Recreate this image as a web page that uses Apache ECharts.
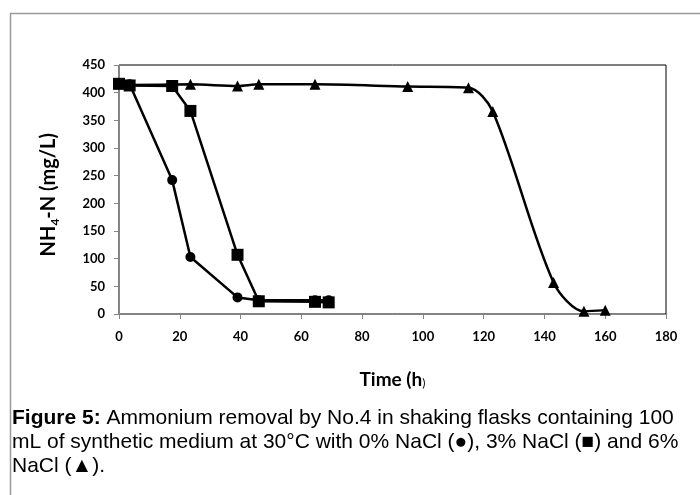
<!DOCTYPE html>
<html lang="en">
<head>
<meta charset="utf-8">
<script src="https://cdn.jsdelivr.net/npm/echarts@6/dist/echarts.min.js"></script>
</head>
<body style="margin:0; background:#fff">
<div id="main" style="width:700px; height:495px"></div>
<script>
// values (time in h, NH4-N in mg/L)
var circleTime = [0, 3.5, 17.5, 23.5, 39, 46, 64.5, 69];
var circleVal  = [416, 415, 242, 103, 30, 25, 25, 25];

var squareTime = [0, 3.5, 17.5, 23.5, 39, 46, 64.5, 69];
var squareVal  = [416, 413, 412, 367, 107, 23, 22, 21];

var triTime = [0, 3.5, 23.5, 39, 46, 64.5, 95, 115, 123, 143, 153, 160];
var triVal  = [416, 414, 415, 412, 415, 415, 411, 409, 366, 57, 5, 7];

function pairs(t, v) {
  var out = [];
  for (var i = 0; i < t.length; i++) out.push([t[i], v[i]]);
  return out;
}

var chart = echarts.init(document.getElementById('main'));
var axisFont = 'Lato, "Open Sans", sans-serif';
var capFont = '"Liberation Sans", Arial, sans-serif';

var option = {
  animation: false,
  backgroundColor: '#fff',
  grid: {
    left: 119, top: 65, right: 34, bottom: 181,
    show: true, borderColor: '#000', borderWidth: 1
  },
  xAxis: {
    type: 'value', min: 0, max: 180, interval: 20,
    splitLine: { show: false },
    axisLine: { lineStyle: { color: '#868686', width: 1 } },
    axisTick: { show: true, length: 5, lineStyle: { color: '#868686' } },
    axisLabel: { color: '#000', fontFamily: axisFont, fontWeight: 'bold', fontSize: 13, margin: 16 },
    name: '{b|Time (h}{s|)}',
    nameLocation: 'middle', nameGap: 56,
    nameTextStyle: {
      rich: {
        b: { fontFamily: axisFont, fontWeight: 'bold', fontSize: 19, color: '#000' },
        s: { fontFamily: axisFont, fontSize: 12, color: '#000', verticalAlign: 'bottom' }
      }
    }
  },
  yAxis: {
    type: 'value', min: 0, max: 450, interval: 50,
    splitLine: { show: false },
    axisLine: { show: true, lineStyle: { color: '#868686', width: 1 } },
    axisTick: { show: true, length: 5, lineStyle: { color: '#868686' } },
    axisLabel: { color: '#000', fontFamily: axisFont, fontWeight: 'bold', fontSize: 13, margin: 14 }
  },
  graphic: [
    {
      type: 'rect', left: 8, top: 11, silent: true,
      shape: { width: 720, height: 520 },
      style: { fill: 'none', stroke: '#9a9a9a', lineWidth: 1.5 }
    },
    {
      type: 'text', left: 39, top: 133, rotation: Math.PI / 2, silent: true,
      style: {
        text: '{b|NH}{s|4}{b|-N (mg/L)}',
        rich: {
          b: { fontFamily: axisFont, fontWeight: 'bold', fontSize: 20, color: '#000', lineHeight: 24 },
          s: { fontFamily: axisFont, fontWeight: 'bold', fontSize: 12, color: '#000', lineHeight: 24, verticalAlign: 'bottom' }
        }
      }
    },
    {
      type: 'text', left: 12, top: 408, silent: true,
      style: {
        text: '{b|Figure 5:}{n| Ammonium removal by No.4 in shaking flasks containing 100}',
        rich: {
          b: { fontFamily: capFont, fontWeight: 'bold', fontSize: 21, color: '#000' },
          n: { fontFamily: capFont, fontSize: 21, color: '#000' }
        }
      }
    },
    {
      type: 'text', left: 12, top: 432, silent: true,
      style: {
        text: 'mL of synthetic medium at 30°C with 0% NaCl (\u25CF), 3% NaCl (\u25A0) and 6%',
        fontFamily: capFont, fontSize: 21, fill: '#000'
      }
    },
    {
      type: 'text', left: 12, top: 456, silent: true,
      style: {
        text: 'NaCl (\u25B2).',
        fontFamily: capFont, fontSize: 21, fill: '#000'
      }
    }
  ],
  series: [
    {
      name: '0% NaCl', type: 'line', data: pairs(circleTime, circleVal),
      symbol: 'circle', symbolSize: 10,
      lineStyle: { color: '#000', width: 2.5 },
      itemStyle: { color: '#000' }
    },
    {
      name: '6% NaCl', type: 'line', data: pairs(triTime, triVal),
      symbol: 'triangle', symbolSize: 11, smooth: 0.3,
      lineStyle: { color: '#000', width: 2.5 },
      itemStyle: { color: '#000' }
    },
    {
      name: '3% NaCl', type: 'line', data: pairs(squareTime, squareVal),
      symbol: 'rect', symbolSize: 12,
      lineStyle: { color: '#000', width: 2.5 },
      itemStyle: { color: '#000' }
    }
  ]
};
chart.setOption(option);
</script>
</body>
</html>
